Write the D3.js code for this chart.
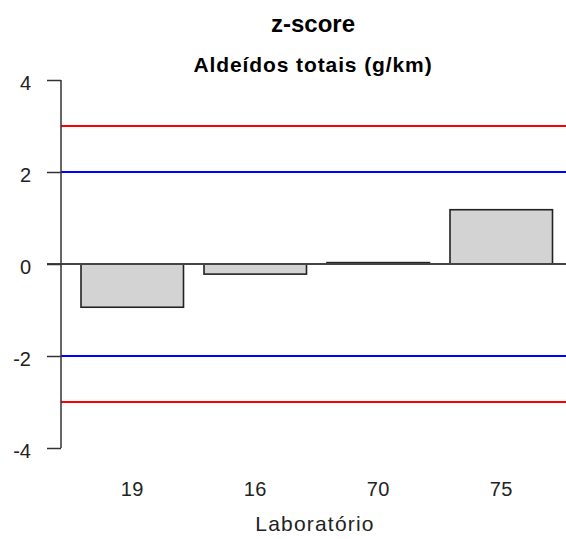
<!DOCTYPE html>
<html>
<head>
<meta charset="utf-8">
<script src="https://cdn.jsdelivr.net/npm/d3@7/dist/d3.min.js"></script>
<style>
  html, body { margin: 0; padding: 0; background: #fff; }
  svg { display: block; }
  text { font-family: Arial, "Liberation Sans", sans-serif; }
</style>
</head>
<body>
<svg id="chart" width="566" height="539"></svg>
<script>
// Laboratories and their z-scores
const labs = ["19", "16", "70", "75"];
const zScores = [-0.94, -0.22, 0.03, 1.18];
const yTicks = [-4, -2, 0, 2, 4];
// Reference limits: |z| = 2 (warning) and |z| = 3 (action)
const warnLimits = [2, -2];
const actionLimits = [3, -3];

const W = 566, H = 539;
const svg = d3.select("#chart");

const axisX = 61;
const y = d3.scaleLinear().domain([-4, 4]).range([448, 80]);
const x = d3.scaleBand().domain(labs).range([81, 552.5])
  .paddingInner(1 / 6).paddingOuter(0);

// Titles
svg.append("text")
  .attr("x", 313).attr("y", 32)
  .attr("text-anchor", "middle")
  .attr("font-weight", "bold").attr("font-size", 24)
  .attr("fill", "#000")
  .text("z-score");
svg.append("text")
  .attr("x", 313).attr("y", 72)
  .attr("text-anchor", "middle")
  .attr("font-weight", "bold").attr("font-size", 21)
  .attr("letter-spacing", 0.9)
  .attr("fill", "#000")
  .text("Aldeídos totais (g/km)");

// Bars
svg.append("g").selectAll("rect")
  .data(zScores)
  .join("rect")
  .attr("x", (d, i) => x(labs[i]))
  .attr("width", x.bandwidth())
  .attr("y", d => y(Math.max(0, d)))
  .attr("height", d => Math.abs(y(d) - y(0)))
  .attr("fill", "#d3d3d3")
  .attr("stroke", "#222")
  .attr("stroke-width", 1.6);

// Zero line (starts at the tick)
svg.append("line")
  .attr("x1", 47).attr("x2", W)
  .attr("y1", y(0)).attr("y2", y(0))
  .attr("stroke", "#444").attr("stroke-width", 2);

// Limit lines
svg.append("g").selectAll("line")
  .data(actionLimits)
  .join("line")
  .attr("x1", axisX).attr("x2", W)
  .attr("y1", d => y(d)).attr("y2", d => y(d))
  .attr("stroke", "#ff0000").attr("stroke-width", 2);
svg.append("g").selectAll("line")
  .data(warnLimits)
  .join("line")
  .attr("x1", axisX).attr("x2", W)
  .attr("y1", d => y(d)).attr("y2", d => y(d))
  .attr("stroke", "#0000ff").attr("stroke-width", 2);

// Y axis
const yAxis = d3.axisLeft(y).tickValues(yTicks).tickSize(14).tickPadding(16)
  .tickFormat(d3.format("d"));
const gy = svg.append("g").attr("transform", `translate(${axisX},0)`).call(yAxis);
gy.select(".domain").remove();
gy.append("line")
  .attr("x1", 0).attr("x2", 0)
  .attr("y1", y(4)).attr("y2", y(-4))
  .attr("stroke", "#333").attr("stroke-width", 1.5);
gy.selectAll(".tick line").attr("stroke", "#333").attr("stroke-width", 1.5);
gy.selectAll(".tick text")
  .attr("font-size", 20).attr("fill", "#222")
  .attr("dy", "0.45em")
  .attr("font-family", "Arial, 'Liberation Sans', sans-serif")
  .text(d => d < 0 ? "-" + Math.abs(d) : d);

// X labels (no axis line)
const xAxis = d3.axisBottom(x).tickSize(0).tickPadding(0);
const gx = svg.append("g").attr("transform", "translate(0,482)").call(xAxis);
gx.select(".domain").remove();
gx.selectAll(".tick text")
  .attr("font-size", 20).attr("fill", "#222")
  .attr("letter-spacing", 0.5)
  .attr("font-family", "Arial, 'Liberation Sans', sans-serif");

// X axis title
svg.append("text")
  .attr("x", 315).attr("y", 531)
  .attr("text-anchor", "middle")
  .attr("font-size", 21).attr("fill", "#222")
  .attr("letter-spacing", 1.2)
  .text("Laboratório");
</script>
</body>
</html>
